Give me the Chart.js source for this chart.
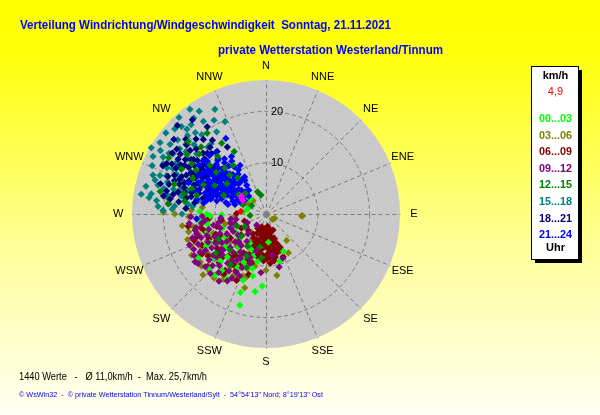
<!DOCTYPE html>
<html>
<head>
<meta charset="utf-8">
<script src="https://cdn.jsdelivr.net/npm/chart.js@4.4.1/dist/chart.umd.min.js"></script>
<style>
html, body { margin: 0; padding: 0; background: #ffff00; }
canvas { display: block; }
</style>
</head>
<body>
<canvas id="rose" width="600" height="415"></canvas>
<script>
// Windrichtung/Windgeschwindigkeit, Punkte als [Richtung in Grad, Geschwindigkeit km/h]
var DIRECTIONS = ['N','NNE','NE','ENE','E','ESE','SE','SSE','S','SSW','SW','WSW','W','WNW','NW','NNW'];
var RINGS = [10, 20];
var MAX_SPEED = 26;
var HOURS = ['00...03','03...06','06...09','09...12','12...15','15...18','18...21','21...24'];
var COLORS = ['#00ff00','#808000','#800000','#800080','#008000','#008080','#000080','#0000ff'];
var DRAW_ORDER = [5, 7, 6, 4.5, 0, 3, 2, 1]; // kleiner = weiter oben

var h00 = [[196,18.4],[183,14.0],[199,13.6],[192,12.3],[155,8.0],[164,9.6],[237,15.7],[230,13.4],[269,8.6],[209,6.5],
  [202,7.5],[237,6.8],[245,10.8],[222,11.2],[215,9.0],[228,7.3],[252,8.9],[260,11.5],[205,10.3],[190,9.4],
  [218,13.9],[242,13.1],[233,9.9],[248,6.2],[258,6.9],[265,13.2],[275,4.4],[285,3.7],[300,6.1],[312,4.2],
  [198,16.0],[188,15.2],[175,5.5],[211,14.6],[226,15.1],[270,11.5],[268,10.8],[272,12.9],
  [230,10.4],[224,12.7],[208,11.7],[194,10.9],[240,9.1],[253,11.9],[220,15.4],[197,8.6],[219,8.3],[243,12.2]];
var h03 = [[270,17.7],[260,14.3],[249,14.8],[241,16.5],[231,16.1],[219,16.0],[215,14.5],[211,11.6],[197,12.7],[192,10.4],
  [186,8.3],[142,6.5],[116,1.9],[93,6.9],[250,10.9],[231,10.6],[271,19.9],[316,3.6],[93,7.1],[130,1.6],
  [226,17.0],[238,15.4],[206,11.4],[200,12.8],[245,12.6],[256,8.2],[264,11.3],[222,8.4],[210,6.0],[235,13.6],
  [248,11.9],[229,13.2],[214,12.4],[196,14.9],[180,10.9],[170,12.1],[150,8.7],[266,6.1],[276,12.4],[300,3.9],
  [252,16.0],[218,14.0],[203,9.8],
  [243,14.1],[234,15.8],[225,15.6],[213,15.1],[208,13.6],[199,11.2],[254,13.7],[261,12.7],[239,10.7],[228,11.9],
  [220,11.1],[212,8.9],[203,7.6],[192,6.9],[262,16.4],[257,15.4],[247,15.9],[232,8.8],[268,15.0],[273,14.5]];
var h06 = [[197,3.9],[190,4.6],[185,5.3],[180,6.0],[175,5.0],[170,4.4],[165,5.8],[160,6.1],[156,3.4],[162,7.2],
  [172,7.4],[182,6.4],[178,7.8],[188,7.0],[194,6.2],[200,5.3],[205,4.1],[210,3.2],[198,2.6],[185,2.9],
  [172,2.4],[165,3.2],[192,8.3],[203,6.2],[177,3.5],[168,8.6],[158,8.9],[183,9.1],[175,9.6],[196,9.8],
  [261,15.3],[228,15.2],[216,13.5],[212,9.4],[220,7.7],[230,6.3],[240,5.5],[252,4.4],[271,5.7],[262,8.7],
  [245,9.8],[235,11.6],[225,12.0],[218,10.6],[208,12.5],[244,13.8],[255,12.4],[266,11.0],[250,14.9],[238,14.6],
  [204,14.1],[215,14.2],[196,12.2],[226,4.7],[236,8.3],
  [193,5.2],[187,6.2],[181,5.1],[176,6.7],[171,5.9],[167,6.8],[163,4.9],[159,7.6],[166,8.0],[174,8.4],
  [186,7.9],[191,7.3],[199,7.0],[195,5.7],[190,3.5],[180,4.0],[176,2.9],[168,3.8],[161,5.1],[157,7.0],
  [170,9.2],[179,8.8],[184,8.1],[189,8.8],[201,8.1],[206,6.9],[208,5.2],[213,4.6],[200,4.0],[193,3.0],
  [183,4.5],[187,3.9],[178,6.2],[172,5.3],[164,7.6],[202,9.5],[210,8.7],[216,9.8],[222,10.9],[230,11.9],
  [241,11.2],[248,10.5],[256,9.9],[258,12.9],[246,12.1],[234,13.9],[224,13.1],[212,11.7],[206,10.8],[252,14.0]];
var h09 = [[254,14.0],[234,16.3],[232,13.0],[198,10.1],[239,13.7],[247,9.7],[228,8.1],[237,4.5],[220,2.8],[159,9.2],
  [262,12.6],[258,10.4],[250,12.2],[244,15.6],[226,14.4],[218,12.1],[212,10.6],[206,8.7],[215,6.5],[230,10.9],
  [242,7.2],[252,6.4],[265,8.8],[268,14.6],[257,14.1],[236,16.6],[223,15.8],[210,15.0],[203,13.1],[195,7.4],
  [240,11.3],[248,16.0],[222,5.2],[233,6.8],[260,5.9],[245,4.0],[214,8.9],[208,14.1],[227,11.6],[252,15.0],
  [185,11.4],[166,10.6],[171,8.1],[263,15.0],[240,14.8],
  [244,12.5],[238,12.4],[232,11.1],[227,9.5],[221,9.8],[216,11.2],[213,13.2],[219,14.6],[229,15.6],[240,16.1],
  [250,13.4],[255,11.5],[260,9.3],[264,11.9],[259,13.8],[246,10.9],[235,9.3],[225,7.5],[218,7.8],[210,9.9],
  [204,11.4],[200,9.0],[207,12.7],[231,14.2],[243,8.5],[249,7.4],[256,7.1],[262,6.9],[253,9.3],[237,10.2],
  [229,12.7],[222,13.5],[215,15.9],[246,14.4],[268,12.4]];
var h12 = [[316,18.1],[333,13.6],[326,11.4],[282,21.0],[276,19.1],[307,19.2],[315,5.7],[317,10.3],[295,13.4],[302,16.0],
  [289,15.2],[310,12.6],[322,8.9],[298,18.6],[285,13.9],[305,6.5],[312,17.4],[320,14.6],[294,9.0],[328,16.2],
  [279,16.0],[339,4.6],[345,3.8],[300,21.8],[292,4.8],[300,3.2],
  [304,17.4],[296,15.8],[311,14.4],[318,12.0],[288,18.7],[308,9.6],[324,19.4],[299,11.4],[284,16.4],[313,20.6],
  [239,4.8],[190,6.5],[225,9.9],[210,7.2],[248,6.1],[200,11.0],[232,12.3],[265,3.1],
  [215,12.0],[205,9.0],[242,10.4],[186,8.5],[228,6.4]];
var h15 = [[318,25.2],[323,23.3],[336,19.6],[317,22.5],[319,20.9],[300,25.7],[306,23.0],[299,22.8],[296,22.2],[291,20.7],
  [285,21.7],[277,21.4],[281,19.6],[286,17.3],[277,15.2],[303,21.5],[319,17.2],[310,22.4],[313,24.2],[326,21.7],
  [329,18.6],[308,19.7],[300,20.0],[294,19.0],[289,23.2],[283,23.9],[279,24.5],[297,24.6],[305,18.6],[314,19.4],
  [292,17.6],[287,15.9],[282,16.8],[298,16.5],[311,17.8],[321,19.8],[324,25.1],[316,23.6],[295,21.2],[288,20.1],
  [280,22.6],[273,18.2],[301,23.9],[307,21.0],[285,18.6],
  [272,20.0],[275,17.8],[279,19.2],[283,16.1],[276,14.3],[281,13.4],[270,16.3],[290,21.9],[293,24.0],[304,24.8],
  [311,20.6],[315,21.5],[320,22.6],[327,23.8],[331,20.8],[334,22.6],[299,19.6],[302,22.2],[287,22.5],[284,20.4],
  [278,22.9],[274,21.0],[296,20.1],[309,25.0],[322,17.3]];
var h18 = [[300,15.9],[296,17.2],[304,16.8],[292,15.1],[308,15.5],[301,18.4],[297,19.6],[289,17.8],[285,16.3],[282,18.4],
  [291,20.4],[303,21.7],[310,19.2],[314,17.0],[318,15.8],[322,15.4],[313,21.3],[307,13.3],[299,12.8],[293,12.1],
  [287,13.6],[283,14.9],[291,10.2],[297,11.1],[305,11.9],[312,13.6],[316,12.2],[320,18.9],[324,17.7],[330,15.0],
  [278,17.1],[280,20.2],[286,21.3],[295,22.1],[305,20.3],[309,23.0],[300,14.2],[294,14.6],[288,11.4],[302,13.9],
  [306,18.0],[298,20.7],[290,18.9],[284,12.6],[279,14.0],[311,15.8],[317,19.9],[303,9.8],[296,9.4],[312,10.6],
  [315,24.3],[322,23.2],[326,20.4],[276,19.0],[274,15.6],[308,16.9],[293,16.3],[301,17.5],[287,19.7],[297,15.4],
  [299,16.6],[303,15.2],[295,16.0],[291,16.9],[307,17.6],[305,14.8],[298,18.6],[294,17.9],[288,16.7],[300,19.1],
  [296,13.4],[309,14.2],[313,18.5],[302,20.1],[284,17.6],[286,15.0],[290,13.8],[311,20.4],[316,16.4],[320,16.9],
  [306,21.4],[293,19.3],[281,15.8],[279,18.8],[297,21.6],[304,18.9],[308,12.4],[312,16.0],[319,14.2],[295,11.7],
  [289,14.5],[301,16.0],[292,18.1],[283,19.8],[306,15.7]];
var h21 = [[305,9.7],[300,10.2],[310,9.1],[296,8.4],[315,8.8],[302,11.5],[308,12.3],[298,12.8],[292,9.6],[318,10.5],
  [312,7.2],[304,6.8],[296,6.2],[320,7.9],[325,9.4],[288,10.9],[286,8.1],[294,13.6],[306,14.1],[314,12.9],
  [322,11.8],[328,10.1],[330,8.3],[326,6.7],[317,5.9],[309,5.5],[299,5.8],[291,6.9],[284,7.6],[283,11.8],
  [289,12.5],[301,13.2],[311,10.8],[303,8.0],[297,10.9],[307,7.6],[313,11.4],[319,9.2],[293,11.2],[285,9.9],
  [300,15.0],[309,14.7],[295,14.4],[323,13.4],[318,14.0],[312,15.3],[327,12.2],[332,10.7],[329,13.0],[290,14.9],
  [282,13.7],[287,6.3],[294,5.3],[302,4.9],[316,4.8],[324,5.7],[328,7.7],[332,16.6],[266,13.5],[280,12.3],
  [306,11.0],[298,9.3],[310,10.0],[303,12.0],[315,13.6],[321,15.4],[306,16.1],[296,7.4],[309,8.6],[301,6.4],
  [304,10.6],[299,11.7],[307,9.4],[311,11.9],[296,11.5],[302,9.0],[308,10.9],[313,9.7],[300,8.6],[297,12.2],
  [305,13.4],[310,13.1],[316,11.3],[320,10.0],[324,8.2],[293,10.3],[289,9.1],[291,11.9],[303,7.1],[299,7.3],
  [314,6.6],[318,8.0],[321,12.8],[326,11.0],[287,12.0],[285,11.1],[295,12.9],[306,12.6],[312,8.4],[300,12.5],
  [303,14.6],[297,14.0],[310,16.0],[292,16.2],[288,14.1],[316,15.8],[306,8.7],[302,10.3],[309,11.6],[298,10.5]];
var LAST_HOUR = [[303,5.6],[300,5.2],[306,5.9]];
var CURRENT = [[276,4.9]];

var TITLE = 'Verteilung Windrichtung/Windgeschwindigkeit  Sonntag, 21.11.2021';
var SUBTITLE = 'private Wetterstation Westerland/Tinnum';
var STATS = '1440 Werte   -   \u00d8 11,0km/h  -  Max. 25,7km/h';
var FOOTER = '\u00a9 WsWin32  -  \u00a9 private Wetterstation Tinnum/Westerland/Sylt  -  54\u00b054\'13" Nord; 8\u00b019\'13" Ost';

function toXY(list) {
    return list.map(function(p) {
        var a = p[0] * Math.PI / 180;
        return { x: p[1] * Math.sin(a), y: p[1] * Math.cos(a) };
    });
}

var groups = [h00, h03, h06, h09, h12, h15, h18, h21];
var datasets = groups.map(function(g, i) {
    return {
        label: HOURS[i],
        data: toXY(g),
        order: DRAW_ORDER[i],
        pointStyle: 'rectRot',
        pointRadius: 3.6,
        pointBorderWidth: 0,
        backgroundColor: COLORS[i],
        borderColor: COLORS[i]
    };
});
datasets.push({ label: 'letzte Stunde', data: toXY(LAST_HOUR), order: -1, pointStyle: 'rectRot', pointRadius: 3.6, pointBorderWidth: 0, backgroundColor: '#ff00ff' });
datasets.push({ label: 'aktuell', data: toXY(CURRENT), order: -2, pointStyle: 'rectRot', pointRadius: 3.6, pointBorderWidth: 0, backgroundColor: '#ff0000' });

function discPattern() {
    var c = document.createElement('canvas');
    c.width = 4; c.height = 4;
    var g = c.getContext('2d');
    g.fillStyle = '#c8c8c8';
    g.fillRect(0, 0, 4, 4);
    g.fillStyle = '#d3d3d3';
    g.fillRect(0, 0, 1, 1);
    g.fillRect(2, 2, 1, 1);
    return g.createPattern(c, 'repeat');
}

var polarGrid = {
    id: 'polarGrid',
    beforeDraw: function(chart) {
        var ctx = chart.ctx;
        var grad = ctx.createLinearGradient(0, 0, 0, chart.height);
        grad.addColorStop(0, '#ffff00');
        grad.addColorStop(0.12, '#ffff08');
        grad.addColorStop(0.6, '#ffff9a');
        grad.addColorStop(1, '#fffff4');
        ctx.save();
        ctx.fillStyle = grad;
        ctx.fillRect(0, 0, chart.width, chart.height);
        ctx.restore();
    },
    beforeDatasetsDraw: function(chart) {
        var ctx = chart.ctx, sx = chart.scales.x, sy = chart.scales.y;
        var cx = sx.getPixelForValue(0), cy = sy.getPixelForValue(0);
        var rad = function(v) { return sx.getPixelForValue(v) - cx; };
        var R = rad(MAX_SPEED);
        ctx.save();
        ctx.fillStyle = discPattern();
        ctx.beginPath();
        ctx.arc(cx, cy, R, 0, 2 * Math.PI);
        ctx.fill();

        ctx.strokeStyle = '#7c7c7c';
        ctx.lineWidth = 1;
        ctx.setLineDash([4, 3]);
        RINGS.forEach(function(v) {
            ctx.beginPath();
            ctx.arc(cx + 0.5, cy + 0.5, rad(v), 0, 2 * Math.PI);
            ctx.stroke();
        });
        DIRECTIONS.forEach(function(d, i) {
            var a = i * 22.5 * Math.PI / 180;
            ctx.beginPath();
            ctx.moveTo(cx + 0.5, cy + 0.5);
            ctx.lineTo(cx + 0.5 + R * Math.sin(a), cy + 0.5 - R * Math.cos(a));
            ctx.stroke();
        });
        ctx.setLineDash([]);

        ctx.fillStyle = '#000';
        ctx.font = '11px "Liberation Sans", Arial, sans-serif';
        ctx.textAlign = 'left';
        ctx.textBaseline = 'middle';
        RINGS.forEach(function(v) {
            ctx.fillText(String(v), cx + 5, cy - rad(v) + 1);
        });

        ctx.textAlign = 'center';
        var L = rad(MAX_SPEED + 2.7);
        DIRECTIONS.forEach(function(d, i) {
            var a = i * 22.5 * Math.PI / 180;
            ctx.fillText(d, cx + L * Math.sin(a), cy - L * Math.cos(a));
        });
        ctx.restore();
    },
    afterDraw: function(chart) {
        var ctx = chart.ctx;
        ctx.save();
        ctx.textBaseline = 'middle';
        ctx.textAlign = 'left';
        ctx.fillStyle = '#0000ff';
        ctx.font = 'bold 13px "Liberation Sans", Arial, sans-serif';
        ctx.fillText(TITLE, 20, 25, 371);
        ctx.fillText(SUBTITLE, 218, 50, 225);
        ctx.fillStyle = '#000';
        ctx.font = '11px "Liberation Sans", Arial, sans-serif';
        ctx.fillText(STATS, 19, 377, 188);
        ctx.fillStyle = '#0000ff';
        ctx.font = '8px "Liberation Sans", Arial, sans-serif';
        ctx.fillText(FOOTER, 19, 394.5, 304);

        // Legende
        var bx = 531, by = 66, bw = 47, bh = 193;
        ctx.fillStyle = '#000';
        ctx.fillRect(bx + 4, by + 4, bw, bh);
        ctx.fillStyle = '#fff';
        ctx.fillRect(bx, by, bw, bh);
        ctx.strokeStyle = '#000';
        ctx.lineWidth = 1;
        ctx.strokeRect(bx + 0.5, by + 0.5, bw, bh);
        ctx.textAlign = 'center';
        var mx = bx + bw / 2 + 1;
        ctx.fillStyle = '#000';
        ctx.font = 'bold 11px "Liberation Sans", Arial, sans-serif';
        ctx.fillText('km/h', mx, 76);
        ctx.fillStyle = '#ff0000';
        ctx.font = '11px "Liberation Sans", Arial, sans-serif';
        ctx.fillText(String(CURRENT[0][1]).replace('.', ','), mx, 92);
        ctx.font = 'bold 11px "Liberation Sans", Arial, sans-serif';
        HOURS.forEach(function(h, i) {
            ctx.fillStyle = COLORS[i];
            ctx.fillText(h, mx, 119 + i * 16.6, 33);
        });
        ctx.fillStyle = '#000';
        ctx.fillText('Uhr', mx, 248);
        ctx.restore();
    }
};

new Chart(document.getElementById('rose'), {
    type: 'scatter',
    data: { datasets: datasets },
    options: {
        responsive: false,
        animation: false,
        devicePixelRatio: 1,
        events: [],
        layout: { padding: { left: 132, right: 200, top: 80, bottom: 67 } },
        scales: {
            x: { type: 'linear', min: -MAX_SPEED, max: MAX_SPEED, display: false },
            y: { type: 'linear', min: -MAX_SPEED, max: MAX_SPEED, display: false }
        },
        plugins: {
            legend: { display: false },
            tooltip: { enabled: false }
        }
    },
    plugins: [polarGrid]
});
</script>
</body>
</html>
